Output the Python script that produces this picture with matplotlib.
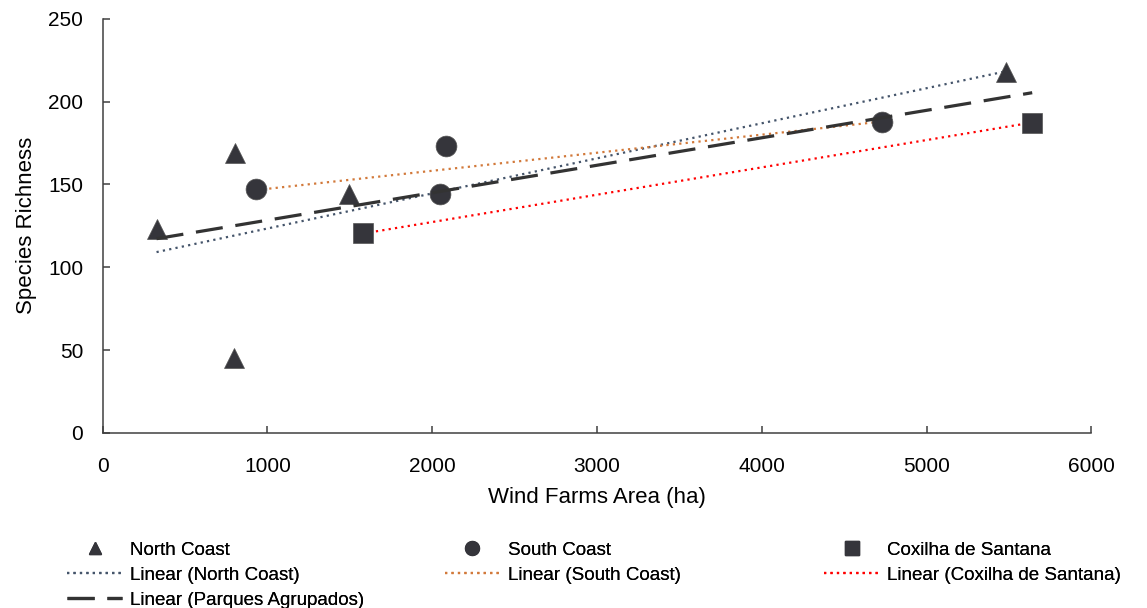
import numpy as np
import matplotlib
matplotlib.use('Agg')
import matplotlib.pyplot as plt
from matplotlib.lines import Line2D

plt.rcParams['font.family'] = ['Liberation Sans', 'DejaVu Sans']

# data
north_x = [327, 802, 796, 1497, 5479]
north_y = [123.3, 169.2, 45.0, 144.1, 218.1]
south_x = [933, 2085, 2045, 4731]
south_y = [147.1, 173.4, 144.1, 188.0]
cox_x = [1581, 5641]
cox_y = [120.4, 187.4]

marker_col = '#35353b'
nc_col = '#44546a'
sc_col = '#d2793a'
cs_col = '#ff0000'
dot = (1, 1.9)


def trend(x, y):
    # linear fit drawn over the series' own x range
    k, b = np.polyfit(x, y, 1)
    xs = np.array([min(x), max(x)])
    return xs, k * xs + b


fig = plt.figure(figsize=(11.47, 6.08), dpi=100)
ax = fig.add_axes([0.0895, 0.288, 0.862, 0.681])

all_x = north_x + south_x + cox_x
all_y = north_y + south_y + cox_y

xs, ys = trend(north_x, north_y)
ax.plot(xs, ys, color=nc_col, lw=1.6, dashes=dot, zorder=2)
xs, ys = trend(south_x, south_y)
ax.plot(xs, ys, color=sc_col, lw=1.6, dashes=dot, zorder=2)
xs, ys = trend(cox_x, cox_y)
ax.plot(xs, ys, color=cs_col, lw=1.6, dashes=dot, zorder=2)

ax.plot(north_x, north_y, '^', ms=14, color=marker_col, mec='#555555', mew=0.5, zorder=3)
ax.plot(south_x, south_y, 'o', ms=15, color=marker_col, mec='#555555', mew=0.5, zorder=3)
ax.plot(cox_x, cox_y, 's', ms=14, color=marker_col, mec='#555555', mew=0.5, zorder=3)

xs, ys = trend(all_x, all_y)
ax.plot(xs, ys, color='#333333', lw=2.3, dashes=(8.5, 4), zorder=4)

ax.set_xlim(0, 6000)
ax.set_ylim(0, 250)
ax.set_xticks(range(0, 6001, 1000))
ax.set_yticks(range(0, 251, 50))
for s in ['top', 'right']:
    ax.spines[s].set_visible(False)
for s in ['left', 'bottom']:
    ax.spines[s].set_color('#404040')
    ax.spines[s].set_linewidth(1.1)
ax.tick_params(direction='in', length=5, width=1.1, color='#404040', labelsize=15)
ax.tick_params(axis='x', pad=17)
ax.tick_params(axis='y', pad=14)
ax.set_xlabel('Wind Farms Area (ha)', fontsize=16, labelpad=8)
ax.set_ylabel('Species Richness', fontsize=16, labelpad=8)

# legend laid out as three columns
cols = [
    [(Line2D([], [], ls='', marker='^', ms=9, color=marker_col), 'North Coast'),
     (Line2D([], [], color=nc_col, lw=1.6, dashes=dot), 'Linear (North Coast)'),
     (Line2D([], [], color='#333333', lw=2.3, dashes=(8.5, 4)), 'Linear (Parques Agrupados)')],
    [(Line2D([], [], ls='', marker='o', ms=10, color=marker_col), 'South Coast'),
     (Line2D([], [], color=sc_col, lw=1.6, dashes=dot), 'Linear (South Coast)')],
    [(Line2D([], [], ls='', marker='s', ms=10, color=marker_col), 'Coxilha de Santana'),
     (Line2D([], [], color=cs_col, lw=1.6, dashes=dot), 'Linear (Coxilha de Santana)')],
]
col_x = [0.0588, 0.3880, 0.7187]
for cx, entries in zip(col_x, cols):
    h, l = zip(*entries)
    leg = fig.legend(h, l, loc='upper left', bbox_to_anchor=(cx, 0.109), frameon=False,
                     fontsize=13.5, handlelength=2.9, handletextpad=0.45, labelspacing=0.42,
                     borderaxespad=0, borderpad=0)
    fig.add_artist(leg)

fig.savefig('out.png', dpi=100)
